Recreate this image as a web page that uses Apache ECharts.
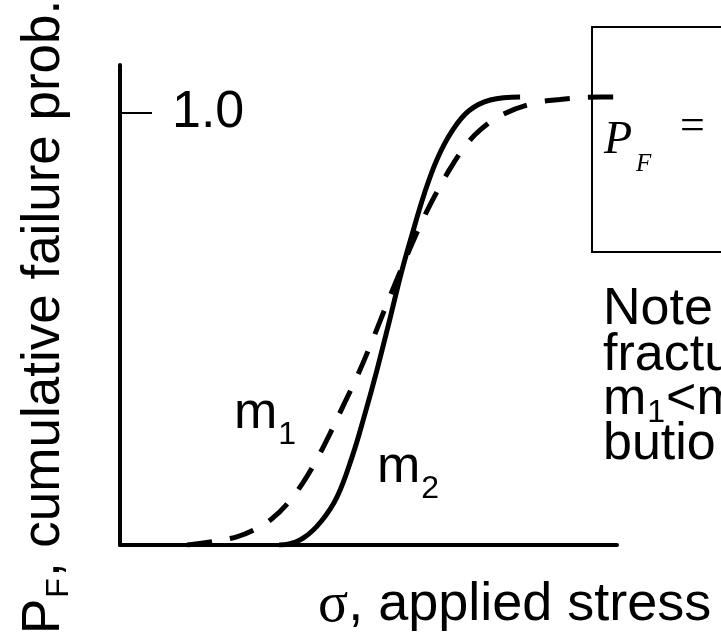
<!DOCTYPE html>
<html>
<head>
<meta charset="utf-8">
<script src="https://cdn.jsdelivr.net/npm/echarts@6/dist/echarts.min.js"></script>
<style>
  html, body { margin: 0; padding: 0; background: #fff; }
  #chart { width: 721px; height: 637px; }
</style>
</head>
<body>
<div id="chart"></div>
<script>
// Weibull-type cumulative failure probability vs applied stress (arbitrary units)
const stressMax = 100;
const probMax = 1.111;

// steeper distribution (larger modulus, m2) - solid curve
const m2Stress = [32.0, 33.5, 37.0, 40.5, 43.7, 46.7, 49.0, 51.7, 54.3, 56.6, 58.8, 61.2, 63.8, 66.8, 70.2, 74.5, 80.5];
const m2Prob   = [0.000, 0.001, 0.017, 0.055, 0.112, 0.204, 0.292, 0.405, 0.523, 0.630, 0.720, 0.812, 0.893, 0.958, 1.005, 1.030, 1.037];

// broader distribution (smaller modulus, m1) - dashed curve
const m1Stress = [13.5, 18.1, 23.5, 27.0, 30.5, 33.8, 36.8, 39.3, 42.3, 44.9, 47.7, 50.3, 52.9, 55.2, 58.0, 60.6, 63.2, 66.0, 69.4, 72.6, 77.1, 83.1, 88.5, 96.6, 100];
const m1Prob   = [0.000, 0.007, 0.019, 0.035, 0.060, 0.097, 0.144, 0.192, 0.259, 0.322, 0.390, 0.460, 0.535, 0.600, 0.677, 0.745, 0.805, 0.863, 0.922, 0.962, 0.997, 1.022, 1.031, 1.037, 1.037];

const yTickValues = [1.0];
const yTickLabels = ['1.0'];

const SANS = '"Liberation Sans", Arial, sans-serif';
const SERIF = '"Liberation Serif", "Times New Roman", serif';

const measureCtx = document.createElement('canvas').getContext('2d');
function textWidth(str, font) {
  measureCtx.font = font;
  return measureCtx.measureText(str).width;
}

function txt(x, y, str, size, family, extra) {
  return {
    type: 'text', x: x, y: y, silent: true,
    style: Object.assign({
      text: str, fill: '#000', fontSize: size, fontFamily: family,
      align: 'left', verticalAlign: 'middle'
    }, extra || {})
  };
}

// main text followed by a lowered subscript (and optional trailing text)
function withSub(x, y, main, sub, size, subSize, drop, family, tail) {
  const w = textWidth(main, size + 'px ' + family);
  const out = [txt(x, y, main, size, family), txt(x + w + 1, y + drop, sub, subSize, family)];
  if (tail) {
    const ws = textWidth(sub, subSize + 'px ' + family);
    out.push(txt(x + w + 1 + ws + 1, y, tail, size, family));
  }
  return out;
}

const chart = echarts.init(document.getElementById('chart'), null, { renderer: 'canvas' });

const yTitle = {
  type: 'group', x: 44, y: 634, rotation: Math.PI / 2, silent: true,
  children: withSub(0, 0, 'P', 'F', 53, 32, 15, SANS, ', cumulative failure prob.')
};

const xTitleLeft = 318;
const graphics = [
  yTitle,
  // equation box
  {
    type: 'rect', z: 1, silent: true,
    shape: { x: 592, y: 27, width: 200, height: 225 },
    style: { fill: 'none', stroke: '#000', lineWidth: 2 }
  },
  txt(604, 141, 'P', 46, SERIF, { fontStyle: 'italic' }),
  txt(636, 164, 'F', 25, SERIF, { fontStyle: 'italic' }),
  txt(680, 127, '=', 44, SERIF),
  // curve labels
  ...withSub(234, 414, 'm', '1', 52, 32, 21, SANS),
  ...withSub(377, 468, 'm', '2', 52, 32, 21, SANS),
  // side note
  txt(603, 310, 'Note', 52, SANS),
  txt(603, 356, 'fractu', 52, SANS),
  ...withSub(603, 400, 'm', '1', 52, 32, 13, SANS, '<m'),
  txt(603, 445, 'butio', 52, SANS),
  // x-axis title
  txt(xTitleLeft, 606, 'σ', 56, SERIF),
  txt(xTitleLeft + textWidth('σ', '56px ' + SERIF), 605, ', applied stress', 54, SANS)
];

const option = {
  animation: false,
  backgroundColor: '#fff',
  grid: { left: 120, right: 104, top: 65, bottom: 92, containLabel: false },
  xAxis: {
    type: 'value', min: 0, max: stressMax,
    axisLine: { show: true, lineStyle: { color: '#000', width: 4 } },
    axisTick: { show: false }, axisLabel: { show: false }, splitLine: { show: false }
  },
  yAxis: {
    type: 'value', min: 0, max: probMax, interval: 1,
    axisLine: { show: true, lineStyle: { color: '#000', width: 4 } },
    axisTick: {
      show: true, inside: true, length: 32, customValues: yTickValues,
      lineStyle: { color: '#000', width: 2 }
    },
    axisLabel: {
      show: true, inside: true, margin: 52, customValues: yTickValues,
      formatter: (v) => {
        const i = yTickValues.findIndex(t => Math.abs(t - v) < 1e-9);
        return i >= 0 ? yTickLabels[i] : '';
      },
      color: '#000', fontSize: 52, fontFamily: SANS
    },
    splitLine: { show: false }
  },
  series: [
    {
      name: 'm2', type: 'line', smooth: 0.4, symbol: 'none', z: 5,
      data: m2Stress.map((s, i) => [s, m2Prob[i]]),
      lineStyle: { color: '#000', width: 5 }
    },
    {
      name: 'm1', type: 'line', smooth: 0.4, symbol: 'none', z: 5,
      data: m1Stress.map((s, i) => [s, m1Prob[i]]),
      lineStyle: { color: '#000', width: 5, type: [25, 18.3] }
    }
  ],
  graphic: graphics
};

chart.setOption(option);
</script>
</body>
</html>
